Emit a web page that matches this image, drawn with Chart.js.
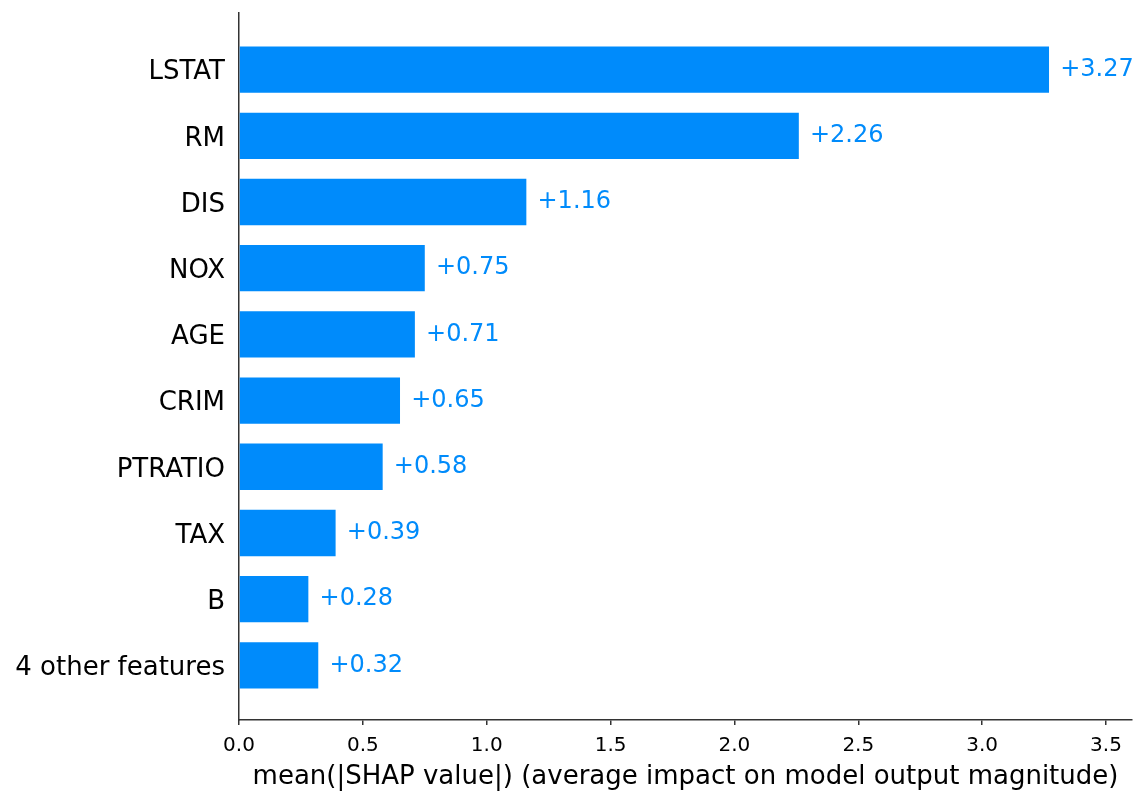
<!DOCTYPE html>
<html>
<head>
<meta charset="utf-8">
<script src="https://cdn.jsdelivr.net/npm/chart.js@4.4.1/dist/chart.umd.min.js"></script>
<style>
html,body{margin:0;padding:0;background:#fff;}
#wrap{width:1146px;height:804px;position:relative;}
</style>
</head>
<body>
<div id="wrap"><canvas id="c" width="1146" height="804"></canvas></div>
<script>
const categories = ["LSTAT","RM","DIS","NOX","AGE","CRIM","PTRATIO","TAX","B","4 other features"];
const values = [3.27, 2.26, 1.16, 0.75, 0.71, 0.65, 0.58, 0.39, 0.28, 0.32];
const xTicks = [0.0, 0.5, 1.0, 1.5, 2.0, 2.5, 3.0, 3.5];
const xLabel = "mean(|SHAP value|) (average impact on model output magnitude)";

const BLUE = "#008bfb";
const FONT = "'DejaVu Sans', sans-serif";
const X_MIN = 0, X_MAX = 3.605;

const valueLabels = {
  id: 'valueLabels',
  afterDatasetsDraw(chart) {
    const ctx = chart.ctx;
    const xs = chart.scales.x;
    const meta = chart.getDatasetMeta(0);
    const off = (X_MAX - X_MIN) / 80;
    ctx.save();
    ctx.font = "24px " + FONT;
    ctx.fillStyle = BLUE;
    ctx.textAlign = 'left';
    ctx.textBaseline = 'middle';
    meta.data.forEach((bar, i) => {
      const v = values[i];
      const px = xs.getPixelForValue(v + off);
      ctx.fillText("+" + v.toFixed(2), px, bar.y);
    });
    ctx.restore();
  }
};

new Chart(document.getElementById('c'), {
  type: 'bar',
  data: {
    datasets: [{
      data: values.map((v, i) => ({x: v, y: i})),
      backgroundColor: BLUE,
      borderWidth: 0,
      barPercentage: 0.7,
      categoryPercentage: 1.0
    }]
  },
  options: {
    indexAxis: 'y',
    responsive: false,
    animation: false,
    devicePixelRatio: 1,
    layout: { padding: { top: 13, right: 14, left: 0, bottom: 0 } },
    plugins: { legend: { display: false }, tooltip: { enabled: false } },
    scales: {
      y: {
        type: 'linear',
        offset: false,
        reverse: true,
        min: -0.855,
        max: 9.825,
        afterBuildTicks: (s) => { s.ticks = categories.map((c, i) => ({ value: i })); },
        afterFit: (s) => { s.width = 239; s.paddingTop = 0; s.paddingBottom = 0; },
        grid: { display: false, drawTicks: false, tickLength: 0 },
        border: { display: true, color: '#333333', width: 1.5 },
        ticks: {
          autoSkip: false,
          padding: 14,
          labelOffset: 3,
          color: '#000000',
          font: { family: FONT, size: 26 },
          callback: (v) => categories[v]
        }
      },
      x: {
        type: 'linear',
        offset: false,
        min: X_MIN,
        max: X_MAX,
        afterBuildTicks: (s) => { s.ticks = xTicks.map(v => ({ value: v })); },
        afterFit: (s) => { s.height = 84; s.paddingLeft = 0; s.paddingRight = 0; },
        grid: { display: true, drawOnChartArea: false, drawTicks: true, tickLength: 5, color: '#333333', lineWidth: 1.5 },
        border: { display: true, color: '#333333', width: 1.5 },
        ticks: {
          autoSkip: false,
          maxRotation: 0,
          padding: 9,
          color: '#000000',
          font: { family: FONT, size: 20 },
          callback: (v) => Number(v).toFixed(1)
        },
        title: {
          display: true,
          text: xLabel,
          color: '#000000',
          font: { family: FONT, size: 26 },
          padding: { top: 0, bottom: 11 }
        }
      }
    }
  },
  plugins: [valueLabels]
});
</script>
</body>
</html>
